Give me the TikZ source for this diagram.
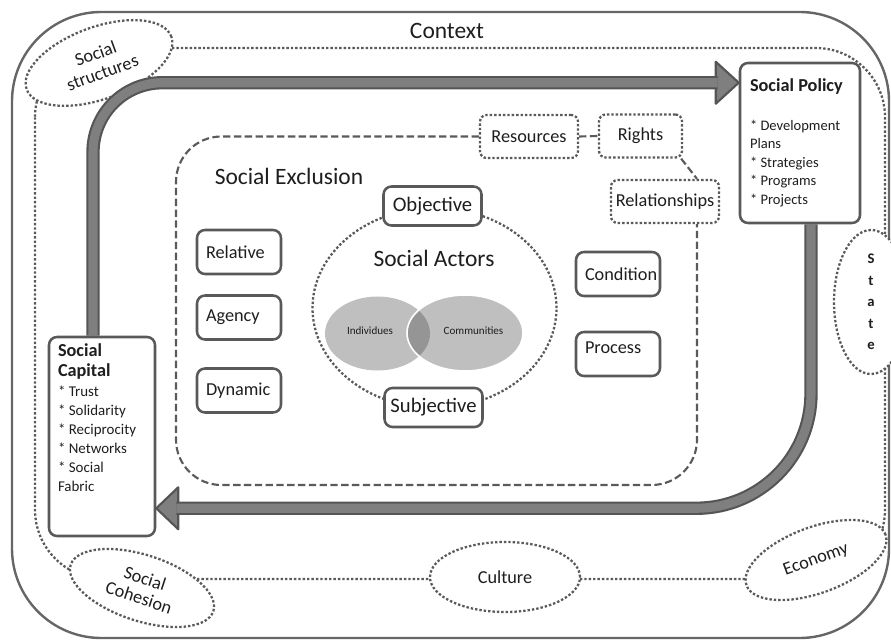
\documentclass[tikz,border=0pt]{standalone}
\usepackage{fontspec}
\setmainfont{Carlito}
\usetikzlibrary{shapes.geometric,calc}

\definecolor{ink}{HTML}{1E1E1E}
\definecolor{frame}{HTML}{666666}
\definecolor{edge}{HTML}{595959}
\definecolor{dots}{HTML}{5A5A5A}
\definecolor{bandedge}{HTML}{555555}
\definecolor{bandfill}{HTML}{7F7F7F}
\definecolor{venn}{HTML}{BFBFBF}
\definecolor{vennmid}{HTML}{959595}

\tikzset{
  biglbl/.style={font=\fontsize{17.6}{21}\selectfont, text=ink, inner sep=0pt},
  ringline/.style={draw=dots, line width=1.7pt, dash pattern=on 1.8pt off 1.5pt},
  ringell/.style={ellipse, ringline, fill=white, inner sep=0pt, align=center,
    font=\fontsize{13.7}{15}\selectfont, text=ink},
  solidbox/.style={draw=edge, line width=1.9pt, rounded corners=6pt, fill=white, text=ink},
  conceptbox/.style={solidbox, minimum width=63pt, minimum height=33pt, text width=49.5pt,
    inner xsep=6.75pt, inner ysep=0pt, align=left, font=\fontsize{13.7}{15}\selectfont},
  polebox/.style={solidbox, minimum width=73.5pt, minimum height=29.25pt, inner sep=0pt,
    font=\fontsize{15.5}{18}\selectfont},
  dimbox/.style={ringline, rounded corners=5pt, fill=white, inner sep=0pt, text=ink,
    font=\fontsize{13.7}{15}\selectfont, minimum height=32.25pt},
  sedash/.style={draw=dots, line width=1.6pt, dash pattern=on 5.5pt off 2.6pt},
  band/.style={draw=bandedge, line width=1.6pt, double=bandfill, double distance=6.8pt},
  bandhead/.style={fill=bandfill, draw=bandedge, line width=1.6pt, line join=round},
  boxtext/.style={anchor=north west, inner sep=0pt, align=left, text=ink},
}

\begin{document}
\begin{tikzpicture}[x=0.75pt,y=-0.75pt]
\useasboundingbox (0,0) rectangle (891,641);

% outer context frame
\draw[draw=frame, line width=1.8pt, rounded corners=67pt] (12,12) rectangle (889,638);
\node[biglbl] (ctxlabel) at (447,31) {Context};

% dotted ring of context factors
\draw[ringline, rounded corners=52pt] (35,48) rectangle (885,579);
\node[ringell, rotate=20, minimum width=115.5pt, minimum height=54pt] (structures) at (99,63) {Social\\structures};
\node[ringell, rotate=-18, minimum width=112.5pt, minimum height=49.5pt] (cohesion) at (142,588) {Social\\Cohesion};
\node[ringell, minimum width=112.5pt, minimum height=52.5pt] (culture) at (505,577) {Culture};
\node[ringell, rotate=20, minimum width=111pt, minimum height=49.5pt] (economy) at (816,560) {Economy};
\node[ringell, minimum width=55.5pt, minimum height=108pt, font=\fontsize{11}{16.1}\selectfont\bfseries] (state) at (871,302) {S\\t\\a\\t\\e};

% social actors
\node[ellipse, ringline, minimum width=183pt, minimum height=150pt, inner sep=0pt] (actors) at (434.5,308) {};
\node[biglbl] (actorslabel) at (434,258) {Social Actors};

\node[ellipse, fill=venn, minimum width=78.75pt, minimum height=55.5pt, inner sep=0pt] (ind) at (377.5,333.5) {};
\node[ellipse, fill=venn, minimum width=87pt, minimum height=57pt, inner sep=0pt] (com) at (465,333) {};
\begin{scope}
  \clip (ind.center) ellipse [x radius=52.5, y radius=37];
  \fill[vennmid] (com.center) ellipse [x radius=58, y radius=38];
\end{scope}
\draw[white, line width=1.2pt] (com.center) ellipse [x radius=58, y radius=38];
\node[font=\fontsize{8.3}{10}\selectfont, text=ink, inner sep=0pt] (indtext) at (370,331) {Individues};
\node[font=\fontsize{8.3}{10}\selectfont, text=ink, inner sep=0pt] (comtext) at (473.5,331) {Communities};

% boxes
\node[solidbox, minimum width=90pt, minimum height=120pt, inner sep=0pt] (policy) at (800,143) {};
\node[solidbox, minimum width=79.5pt, minimum height=149.25pt, inner sep=0pt] (capital) at (102,436.5) {};
\node[polebox] (objective) at (432.5,206) {Objective};
\node[polebox] (subjective) at (433.5,407.5) {Subjective};
\node[conceptbox] (relative) at (239,252) {Relative};
\node[conceptbox] (agency) at (239,317.5) {Agency};
\node[conceptbox] (dynamic) at (239,390.5) {Dynamic};
\node[conceptbox] (condition) at (618,274) {\mbox{Condition}};
\node[conceptbox, text depth=9pt] (process) at (618,354) {Process};

\node[dimbox, minimum width=73.5pt] (resources) at (529,136.5) {Resources};
\node[dimbox, minimum width=62.25pt] (rights) at (640.5,136) {Rights};
\node[dimbox, minimum width=81pt] (relationships) at (665,201.5) {Relationships};

% labels
\node[biglbl] (exclusionlabel) at (289,176) {Social Exclusion};
\node[boxtext, font=\fontsize{13.7}{15}\selectfont\bfseries] (policytitle) at ($(policy.north west)+(11,17)$) {Social Policy};
\node[boxtext, font=\fontsize{10.9}{13.9}\selectfont] (policylist) at ($(policy.north west)+(11,58)$)
  {* Development\\Plans\\* Strategies\\* Programs\\* Projects};
\node[boxtext, font=\fontsize{13.7}{15}\selectfont\bfseries] (capitaltitle) at ($(capital.north west)+(10,8)$) {Social\\Capital};
\node[boxtext, font=\fontsize{11.2}{14.25}\selectfont] (capitallist) at ($(capital.north west)+(10,50)$)
  {* Trust\\* Solidarity\\* Reciprocity\\* Networks\\* Social\\Fabric};

% social exclusion frame and its dimensions
\coordinate (seSW) at (176,485);
\coordinate (seSE) at (697,485);
\draw[sedash, rounded corners=34pt] (resources.west) -| (seSW) -- (seSE) -- (seSE |- relationships.south);
\draw[sedash] (resources.east) -- (rights.west);
\draw[sedash] ($(rights.south east)+(-2,0)$) -- (seSE |- relationships.north);

% feedback loop between social capital and social policy
\coordinate (capTop) at ($(capital.north)+(-9,0)$);
\coordinate (policyTip) at ($(policy.north west)+(0,21)$);
\coordinate (policyBase) at ($(policyTip)+(-23,0)$);
\coordinate (policyBottom) at ($(policy.south)+(11,0)$);
\coordinate (capitalTip) at ($(capital.south east)+(0,-29)$);
\coordinate (capitalBase) at ($(capitalTip)+(22,0)$);

\filldraw[bandhead] (policyTip) -- ($(policyBase)+(0,-21)$) -- ($(policyBase)+(0,21)$) -- cycle;
\draw[band, rounded corners=52pt] (capTop) |- ($(policyBase)+(2,0)$);
\filldraw[bandhead] (capitalTip) -- ($(capitalBase)+(0,-21)$) -- ($(capitalBase)+(0,21)$) -- cycle;
\draw[band, rounded corners=86pt] (policyBottom) |- ($(capitalBase)+(-2,0)$);
\end{tikzpicture}
\end{document}
